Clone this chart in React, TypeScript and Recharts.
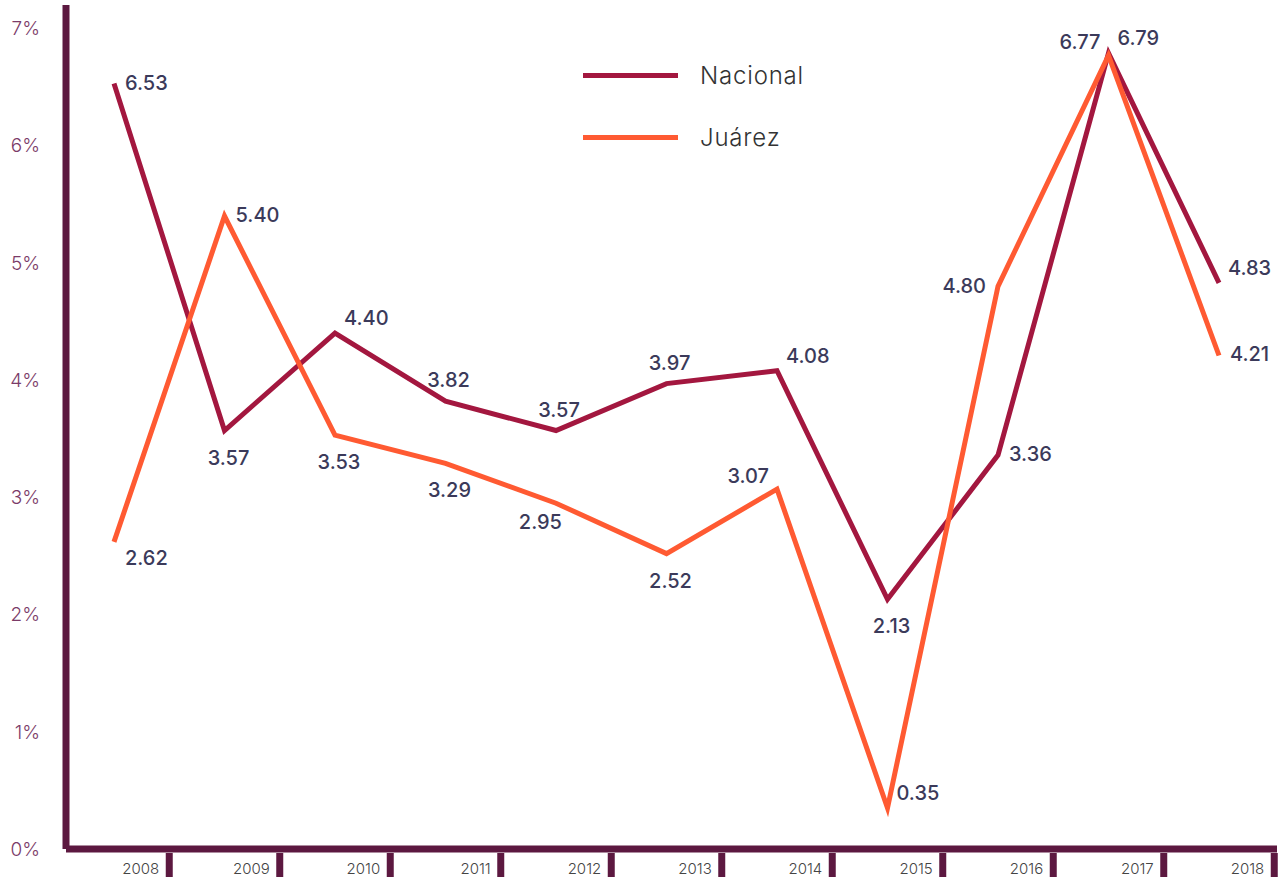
import React from 'react';
import { LineChart, Line, XAxis, YAxis, Legend, LabelList } from 'recharts';

const YEARS = ['2008', '2009', '2010', '2011', '2012', '2013', '2014', '2015', '2016', '2017', '2018'];
const NACIONAL = [6.53, 3.57, 4.4, 3.82, 3.57, 3.97, 4.08, 2.13, 3.36, 6.79, 4.83];
const JUAREZ = [2.62, 5.4, 3.53, 3.29, 2.95, 2.52, 3.07, 0.35, 4.8, 6.77, 4.21];
const Y_TICKS = [0, 1, 2, 3, 4, 5, 6, 7];
const SERIES_ORDER = ['Nacional', 'Juárez'];

// where each value label sits relative to its point
const NAC_PLACE = ['r', 'b', 'ur', 'a', 'a', 'a', 'ur', 'b', 'r', 'ur', 'ur'];
const JUA_PLACE = ['dr', 'r', 'b', 'b', 'bl', 'b', 'ul', 'ur', 'l', 'ul', 'r'];

const W = 1280;
const H = 877;
const AXIS = '#5c1840';
const C_NAC = '#a3173f';
const C_JUA = '#ff5a32';
const FONT = 'Inter, Lato, sans-serif';

const PAD_L = 48;
const PAD_R = 58;
const Y_W = 66;
const M_RIGHT = 3;
const STEP = (W - Y_W - M_RIGHT - PAD_L - PAD_R) / (YEARS.length - 1);

const data = YEARS.map((year, i) => ({ year, nacional: NACIONAL[i], juarez: JUAREZ[i] }));

const PLACE: Record<string, { dx: number; dy: number; anchor: 'start' | 'middle' | 'end' }> = {
  r: { dx: 11, dy: -1, anchor: 'start' },
  ur: { dx: 9, dy: -15, anchor: 'start' },
  dr: { dx: 11, dy: 16, anchor: 'start' },
  a: { dx: 3, dy: -21, anchor: 'middle' },
  b: { dx: 4, dy: 27, anchor: 'middle' },
  bl: { dx: 6, dy: 19, anchor: 'end' },
  l: { dx: -12, dy: 0, anchor: 'end' },
  ul: { dx: -8, dy: -13, anchor: 'end' },
};

const makeLabel = (places: string[]) => (props: any) => {
  const { x, y, value, index } = props;
  const p = PLACE[places[index]] || PLACE.r;
  return (
    <text
      x={x + p.dx}
      y={y + p.dy}
      textAnchor={p.anchor}
      dominantBaseline="central"
      fontSize={20}
      fontFamily={FONT}
      fontWeight={500}
      fill="#3b3a5a"
    >
      {Number(value).toFixed(2)}
    </text>
  );
};

const YearTick = (props: any) => {
  const { x, y, payload } = props;
  const bx = x + STEP / 2;
  return (
    <g>
      <rect x={bx - 3.5} y={y - 4} width={7} height={H} fill={AXIS} />
      <text
        x={bx - 10}
        y={y + 17}
        textAnchor="end"
        fontSize={15}
        fontFamily={FONT}
        fontWeight={300}
        fill="#444"
      >
        {payload.value}
      </text>
    </g>
  );
};

const LegendBox = (props: any) => {
  const items = [...(props.payload || [])].sort(
    (a: any, b: any) => SERIES_ORDER.indexOf(a.value) - SERIES_ORDER.indexOf(b.value)
  );
  return (
    <div style={{ fontFamily: FONT }}>
      {items.map((it: any) => (
        <div key={it.value} style={{ display: 'flex', alignItems: 'center', height: 40, marginBottom: 22 }}>
          <div style={{ width: 95, height: 5, background: it.color, marginRight: 22 }} />
          <span style={{ fontSize: 24, color: '#333', fontWeight: 300, letterSpacing: 0.8 }}>{it.value}</span>
        </div>
      ))}
    </div>
  );
};

export default function App() {
  return (
    <div style={{ position: 'absolute', left: 0, top: 0, width: W, height: H, background: '#fff' }}>
      <LineChart width={W} height={H} data={data} margin={{ top: 5, right: M_RIGHT, left: 0, bottom: 0 }}>
        <XAxis
          dataKey="year"
          height={28}
          padding={{ left: PAD_L, right: PAD_R }}
          axisLine={{ stroke: AXIS, strokeWidth: 7 }}
          tickLine={false}
          tick={<YearTick />}
          interval={0}
        />
        <YAxis
          width={Y_W}
          domain={[0, 7.2]}
          ticks={Y_TICKS}
          allowDataOverflow
          axisLine={{ stroke: AXIS, strokeWidth: 7 }}
          tickLine={false}
          tickMargin={20}
          tickFormatter={(v: number) => `${v}%`}
          tick={{ fontSize: 19, fontFamily: FONT, fontWeight: 300, fill: '#7b3b68' }}
        />
        <Legend
          layout="vertical"
          verticalAlign="middle"
          align="center"
          wrapperStyle={{ left: 583, top: 55, width: 320 }}
          content={<LegendBox />}
        />
        <Line
          type="linear"
          dataKey="nacional"
          name="Nacional"
          stroke={C_NAC}
          strokeWidth={5}
          dot={false}
          isAnimationActive={false}
        >
          <LabelList dataKey="nacional" content={makeLabel(NAC_PLACE)} />
        </Line>
        <Line
          type="linear"
          dataKey="juarez"
          name="Juárez"
          stroke={C_JUA}
          strokeWidth={5}
          dot={false}
          isAnimationActive={false}
        >
          <LabelList dataKey="juarez" content={makeLabel(JUA_PLACE)} />
        </Line>
      </LineChart>
    </div>
  );
}
